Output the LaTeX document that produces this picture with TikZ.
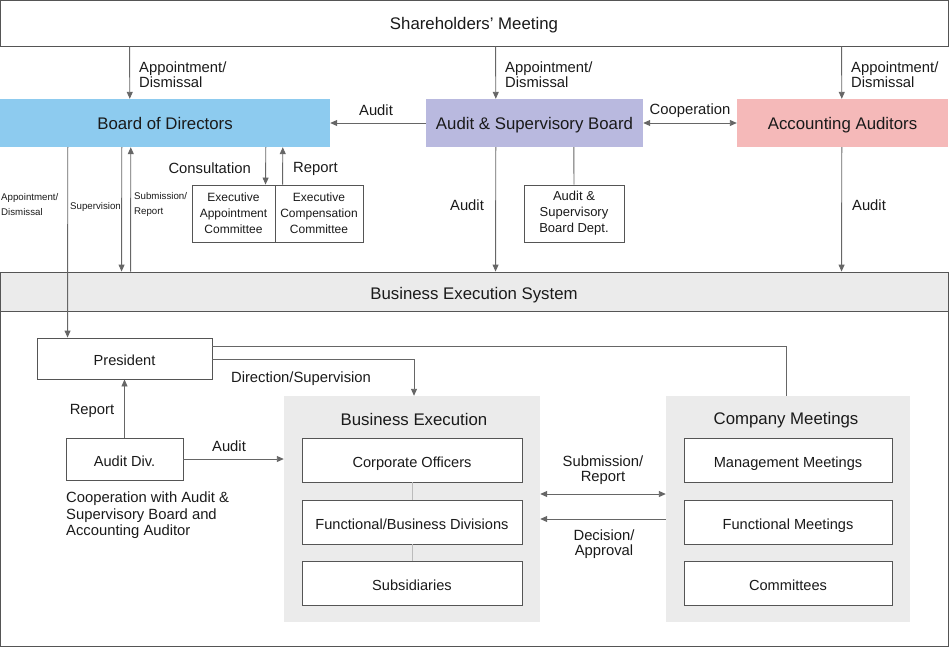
\documentclass[tikz,border=0pt]{standalone}
\usepackage{fontspec}
\setmainfont{Liberation Sans}
\usetikzlibrary{arrows.meta}
\definecolor{lc}{HTML}{666666}
\definecolor{bc}{HTML}{555555}
\definecolor{txt}{HTML}{1A1A1A}
\definecolor{bodc}{HTML}{8DCBEF}
\definecolor{asbc}{HTML}{B9B9DF}
\definecolor{aac}{HTML}{F5B9B9}
\definecolor{grp}{HTML}{EBEBEB}
\definecolor{thin}{HTML}{BBBBBB}
\begin{document}
\begin{tikzpicture}[x=1pt,y=-1pt,
  every node/.style={text=txt, inner sep=0pt},
  bigf/.style={font=\fontsize{16.8}{19}\selectfont},
  lblf/.style={font=\fontsize{14.8}{15}\selectfont},
  boxf/.style={font=\fontsize{14.6}{16}\selectfont},
  tinyf/.style={font=\fontsize{9.7}{15}\selectfont},
  bigone/.style={text height=13pt, text depth=0pt},
  boxone/.style={text height=14pt, text depth=0pt},
  bigbox/.style={draw=bc, line width=0.9pt, fill=white, bigf, bigone},
  colbox/.style={rectangle, bigf, text height=12.4pt, text depth=0pt},
  wbox/.style={draw=bc, line width=0.9pt, fill=white, boxf, align=center},
  grpbox/.style={fill=grp},
  lbl/.style={lblf, align=left},
  conn/.style={draw=lc, line width=0.9pt},
  arr/.style={conn, -{Triangle[length=7pt,width=6pt]}},
  darr/.style={conn, {Triangle[length=7pt,width=6pt]}-{Triangle[length=7pt,width=6pt]}},
  thinline/.style={draw=thin, line width=1pt}
]
\useasboundingbox (0,0) rectangle (950,648);

% top boxes
\node[bigbox, minimum width=948pt, minimum height=46pt] (sh) at (474,23) {Shareholders' Meeting};
\node[colbox, fill=bodc, minimum width=330pt, minimum height=48pt] (bod) at (165,123) {Board of Directors};
\node[colbox, fill=asbc, minimum width=217pt, minimum height=48pt] (asb) at (534.5,123) {Audit \& Supervisory Board};
\node[colbox, fill=aac, minimum width=211pt, minimum height=48pt] (aa) at (842.5,123) {Accounting Auditors};

% committees
\node[wbox, font=\fontsize{12}{16}\selectfont, minimum width=83pt, minimum height=57pt] (ea) at (233.5,213.5) {Executive\\Appointment\\Committee};
\node[wbox, font=\fontsize{12}{16}\selectfont, minimum width=88pt, minimum height=57pt] (ec) at (319,213.5) {Executive\\Compensation\\Committee};
\node[wbox, font=\fontsize{13}{16}\selectfont, minimum width=100pt, minimum height=57pt] (dept) at (574,213.5) {Audit \&\\Supervisory\\Board Dept.};

% business execution system frame
\node[draw=bc, line width=0.9pt, minimum width=948pt, minimum height=374pt] (frame) at (474,459) {};
\node[draw=bc, line width=0.9pt, fill=grp, bigf, text height=15pt, text depth=0pt, minimum width=948pt, minimum height=39pt] (bes) at (474,291.5) {Business Execution System};

% groups
\node[grpbox, minimum width=256pt, minimum height=226pt] (be) at (412,509) {};
\node[bigf] (betitle) at (414,419) {Business Execution};
\node[grpbox, minimum width=244pt, minimum height=226pt] (cm) at (788,509) {};
\node[bigf] (cmtitle) at (786,420) {Company Meetings};

\node[wbox, boxone, minimum width=220pt, minimum height=44pt] (co) at (412,460) {Corporate Officers};
\node[wbox, boxone, minimum width=220pt, minimum height=44pt] (fb) at (412,522) {Functional/Business Divisions};
\node[wbox, boxone, minimum width=220pt, minimum height=44pt] (sub) at (412,583) {Subsidiaries};
\draw[thinline] (co.south) -- (fb.north);
\draw[thinline] (fb.south) -- (sub.north);

\node[wbox, boxone, minimum width=208pt, minimum height=44pt] (mm) at (788,460) {Management Meetings};
\node[wbox, boxone, minimum width=208pt, minimum height=44pt] (fm) at (788,522) {Functional Meetings};
\node[wbox, boxone, minimum width=208pt, minimum height=44pt] (cmt) at (788,583) {Committees};

\node[wbox, boxone, minimum width=175pt, minimum height=41pt] (pres) at (124.5,358.5) {President};
\node[wbox, boxone, minimum width=117pt, minimum height=42pt] (ad) at (124.5,459) {Audit Div.};

% connectors top
\draw[arr] ([xshift=130pt]sh.south west) -- ([xshift=130pt]bod.north west);
\draw[arr] ([xshift=496pt]sh.south west) -- ([xshift=70pt]asb.north west);
\draw[arr] ([xshift=842pt]sh.south west) -- ([xshift=105pt]aa.north west);
\node[lbl, anchor=west] (l1) at (139,74.5) {Appointment/\\Dismissal};
\node[lbl, anchor=west] (l2) at (505,74.5) {Appointment/\\Dismissal};
\node[lbl, anchor=west] (l3) at (851,74.5) {Appointment/\\Dismissal};

\draw[arr] (asb.west) -- (bod.east);
\node[lblf] (la) at (376,110) {Audit};
\draw[darr] (asb.east) -- (aa.west);
\node[lblf] (lc) at (690,111) {Cooperation};

% BoD down
\draw[arr] ([xshift=68pt]bod.south west) -- ([xshift=31pt]pres.north west);
\draw[arr] ([xshift=122pt]bod.south west) -- ([xshift=122pt]bes.north west);
\draw[arr] ([xshift=131pt]bes.north west) -- ([xshift=131pt]bod.south west);
\node[tinyf, anchor=west, align=left] (t1) at (1,204.5) {Appointment/\\Dismissal};
\node[tinyf, anchor=west] (t2) at (70,207) {Supervision};
\node[tinyf, anchor=west, align=left] (t3) at (134,204.5) {Submission/\\Report};

\draw[arr] ([xshift=266pt]bod.south west) -- ([xshift=74pt]ea.north west);
\draw[arr] ([xshift=8pt]ec.north west) -- ([xshift=283pt]bod.south west);
\node[lblf, anchor=east] (lcons) at (251,168) {Consultation};
\node[lblf, anchor=west] (lrep) at (293,169) {Report};

\draw[arr] ([xshift=70pt]asb.south west) -- ([xshift=496pt]bes.north west);
\node[lblf] (la2) at (467,205) {Audit};
\draw[conn] ([xshift=148pt]asb.south west) -- (dept.north);
\draw[arr] ([xshift=105pt]aa.south west) -- ([xshift=842pt]bes.north west);
\node[lblf] (la3) at (869,205) {Audit};

% lower part
\draw[conn] ([yshift=-9pt]pres.north east) -| ([xshift=-2pt]cm.north);
\draw[arr] ([yshift=-22pt]pres.north east) -| ([xshift=2pt]be.north);
\node[lblf] (ldir) at (301,379) {Direction/Supervision};

\draw[arr] (ad.north) -- (pres.south);
\node[lblf] (lrep2) at (92,411) {Report};
\draw[arr] (ad.east) -- (be.west |- ad.east);
\node[lblf] (la4) at (229,446) {Audit};
\node[lblf, anchor=north west, align=left, font=\fontsize{14.8}{16.5}\selectfont] (coop) at (66,492) {Cooperation with Audit \&\\Supervisory Board and\\Accounting Auditor};

\draw[darr] ([yshift=15pt]be.east) -- ([yshift=15pt]cm.west);
\node[lblf, align=center] (lsub) at (603,470) {Submission/\\Report};
\draw[arr] ([yshift=-10pt]cm.west) -- ([yshift=-10pt]be.east);
\node[lblf, align=center] (ldec) at (604,544) {Decision/\\Approval};
\end{tikzpicture}
\end{document}
